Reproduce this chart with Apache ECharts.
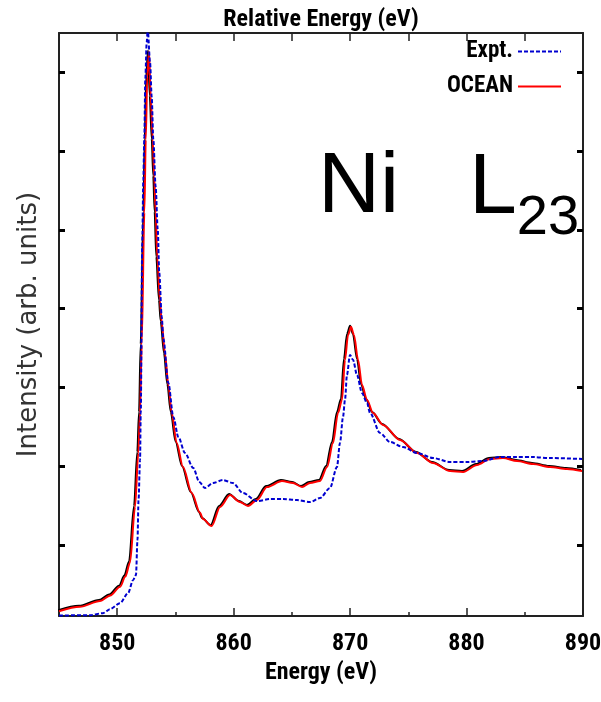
<!DOCTYPE html>
<html>
<head>
<meta charset="utf-8">
<script src="https://cdn.jsdelivr.net/npm/echarts@6/dist/echarts.min.js"></script>
<style>html,body{margin:0;padding:0;background:#fff;}#chart{width:601px;height:702px;}</style>
</head>
<body>
<div id="chart"></div>
<script>
// ---- data ----
const exptEnergy = [845.0, 847.66, 848.78, 849.38, 850.24, 850.93, 851.36, 851.61, 851.74, 851.83, 851.96, 852.02, 852.15, 852.24, 852.33, 852.41, 852.53, 852.62, 852.82, 852.96, 853.10, 853.30, 853.48, 853.61, 853.82, 853.96, 854.39, 854.82, 855.25, 855.82, 856.53, 857.05, 857.54, 858.23, 859.08, 859.94, 860.80, 862.00, 863.12, 864.24, 865.44, 866.56, 867.41, 868.27, 868.87, 869.13, 869.39, 869.56, 869.73, 869.99, 870.25, 870.59, 871.02, 871.45, 871.71, 872.57, 873.43, 874.54, 875.75, 877.12, 878.58, 880.04, 881.41, 882.87, 884.33, 885.71, 887.17, 889.92];
const exptIntensity = [-8.95, -8.89, -8.64, -8.13, -7.37, -6.10, -4.45, -3.81, 0.64, 5.72, 10.80, 16.77, 38.37, 46.38, 51.84, 59.09, 63.79, 65.5, 61.25, 56.93, 51.46, 45.49, 40.03, 34.56, 29.0, 26.2, 20.58, 16.26, 13.72, 11.69, 9.78, 8.01, 7.24, 7.88, 8.26, 7.88, 6.61, 5.59, 5.84, 5.84, 5.72, 5.46, 5.97, 7.24, 9.91, 12.96, 16.26, 18.42, 21.60, 24.14, 23.51, 21.60, 19.31, 18.04, 16.77, 14.23, 13.09, 12.45, 11.69, 11.05, 10.55, 10.55, 10.67, 11.18, 11.18, 11.18, 11.05, 10.93];
const oceanEnergy = [845.0, 846.8, 848.52, 849.4, 850.24, 850.7, 851.10, 851.53, 851.81, 851.96, 852.10, 852.33, 852.45, 852.58, 852.73, 852.88, 853.05, 853.18, 853.30, 853.44, 853.67, 853.82, 854.10, 854.39, 854.68, 855.10, 855.65, 856.40, 857.11, 857.37, 858.11, 858.83, 859.69, 860.54, 861.23, 862.00, 862.86, 864.15, 865.10, 865.87, 866.56, 867.41, 868.02, 868.53, 868.96, 869.30, 869.56, 869.82, 870.08, 870.33, 870.68, 871.02, 871.45, 871.97, 872.83, 874.29, 875.75, 877.12, 878.58, 879.70, 880.90, 882.01, 883.13, 884.33, 885.71, 887.17, 888.63, 889.92];
const oceanIntensity = [-8.39, -7.84, -7.1, -6.4, -5.3, -4.0, -2.2, 4.83, 11.69, 16.77, 25.4, 42.19, 51.46, 59.47, 62.64, 56.93, 51.46, 46.76, 42.19, 36.5, 31.0, 28.3, 24.3, 20.3, 16.8, 13.0, 9.9, 6.6, 4.1, 3.3, 2.41, 4.83, 6.35, 5.46, 4.96, 5.72, 7.37, 8.13, 7.88, 7.37, 7.88, 8.13, 9.91, 12.96, 16.77, 18.42, 23.51, 26.68, 27.70, 26.68, 23.51, 20.33, 18.42, 16.77, 15.25, 13.34, 11.69, 10.42, 9.40, 9.28, 10.17, 10.93, 11.05, 10.67, 10.29, 9.91, 9.66, 9.40];
const xLabelTicks = [850, 860, 870, 880, 890];
const xMinorTicks = [855, 865, 875, 885];
const xTopTicks = [850, 855, 860, 865, 870, 875, 880, 885];
const yTicks = [0, 10, 20, 30, 40, 50, 60];
const seriesNames = ['Expt.', 'OCEAN'];

const pairs = (xs, ys) => xs.map((x, i) => [x, ys[i]]);
const condFamily = "Roboto, 'Open Sans', sans-serif";
const condWeight = 'bold condensed';
const frame = {show: true, onZero: false, lineStyle: {color: '#222', width: 2}};

const chart = echarts.init(document.getElementById('chart'), null, {renderer: 'canvas'});
chart.setOption({
  animation: false,
  backgroundColor: '#fff',
  grid: {left: 59, right: 18, top: 33, bottom: 86, containLabel: false, outerBoundsMode: 'none'},
  legend: {
    right: 39, top: 40, padding: 0, orient: 'vertical', align: 'right', itemWidth: 43, itemHeight: 14, itemGap: 12,
    itemStyle: {opacity: 0},
    textStyle: {fontFamily: condFamily, fontWeight: condWeight, fontSize: 23, color: '#000'},
    data: seriesNames
  },
  xAxis: [
    {type: 'value', position: 'bottom', min: 845, max: 890,
     axisLine: frame, splitLine: {show: false},
     axisTick: {inside: true, length: 8, customValues: xLabelTicks, lineStyle: {color: '#222', width: 1.5}},
     axisLabel: {customValues: xLabelTicks, margin: 16, fontFamily: condFamily, fontWeight: condWeight, fontSize: 24, color: '#000'},
     name: 'Energy (eV)', nameLocation: 'middle', nameGap: 40,
     nameTextStyle: {fontFamily: condFamily, fontWeight: condWeight, fontSize: 24, color: '#000'}},
    {type: 'value', position: 'bottom', min: 845, max: 890,
     axisLine: {show: false, onZero: false}, splitLine: {show: false}, axisLabel: {show: false},
     axisTick: {inside: true, length: 4, customValues: xMinorTicks, lineStyle: {color: '#222', width: 1.5}}},
    {type: 'value', position: 'top', min: 845, max: 890,
     axisLine: frame, splitLine: {show: false}, axisLabel: {show: false},
     axisTick: {inside: true, length: 8, customValues: xTopTicks, lineStyle: {color: '#222', width: 1.5}},
     name: 'Relative Energy (eV)', nameLocation: 'middle', nameGap: 1,
     nameTextStyle: {fontFamily: condFamily, fontWeight: condWeight, fontSize: 24, color: '#000'}}
  ],
  yAxis: [
    {type: 'value', position: 'left', min: -9, max: 65,
     axisLine: frame, splitLine: {show: false}, axisLabel: {show: false},
     axisTick: {inside: true, length: 6, customValues: yTicks, lineStyle: {color: '#000', width: 3}},
     name: 'Intensity (arb. units)', nameLocation: 'middle', nameGap: 17, nameRotate: 90,
     nameTextStyle: {fontFamily: 'DejaVu Sans', fontSize: 26, color: '#333'}},
    {type: 'value', position: 'right', min: -9, max: 65,
     axisLine: frame, splitLine: {show: false}, axisLabel: {show: false},
     axisTick: {inside: true, length: 6, customValues: yTicks, lineStyle: {color: '#000', width: 3}}}
  ],
  graphic: [
    {type: 'text', left: 318, top: 145, style: {text: 'Ni', font: "86px 'Liberation Sans', Arial, sans-serif", fill: '#000'}},
    {type: 'text', left: 469, top: 146, style: {
      text: '{a|L}{b|23}', fill: '#000',
      rich: {
        a: {fontFamily: "'Liberation Sans', Arial, sans-serif", fontSize: 86, verticalAlign: 'bottom', padding: [0, 0, 15, 0]},
        b: {fontFamily: "'Liberation Sans', Arial, sans-serif", fontSize: 56, verticalAlign: 'bottom'}
      }}}
  ],
  series: [
    {name: seriesNames[0], type: 'line', xAxisIndex: 0, yAxisIndex: 0, symbol: 'none', smooth: 0.3, smoothMonotone: 'x',
     data: pairs(exptEnergy, exptIntensity), z: 3,
     lineStyle: {color: '#0000d0', width: 2, type: [4, 2]}, itemStyle: {color: '#0000d0'}},
    {name: seriesNames[1], type: 'line', xAxisIndex: 0, yAxisIndex: 0, symbol: 'none', smooth: 0.3, smoothMonotone: 'x',
     data: pairs(oceanEnergy, oceanIntensity), z: 2,
     lineStyle: {color: '#ff0000', width: 2, shadowColor: '#000', shadowBlur: 0, shadowOffsetX: -1, shadowOffsetY: -1},
     itemStyle: {color: '#ff0000'}}
  ]
});
</script>
</body>
</html>
